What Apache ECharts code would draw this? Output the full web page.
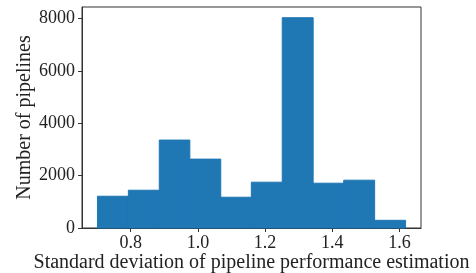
<!DOCTYPE html>
<html>
<head>
<meta charset="UTF-8">
<title>Histogram</title>
<script src="https://cdn.jsdelivr.net/npm/echarts@6/dist/echarts.min.js"></script>
<style>
html,body{margin:0;padding:0;background:#fff;}
#chart{width:476px;height:273px;}
</style>
</head>
<body>
<div id="chart"></div>
<script>
// bin edges and counts
var binEdges = [0.701, 0.793, 0.885, 0.976, 1.068, 1.159, 1.251, 1.343, 1.434, 1.526, 1.618];
var counts = [1214, 1444, 3361, 2633, 1176, 1751, 8038, 1713, 1828, 294];
var xTicks = [0.8, 1.0, 1.2, 1.4, 1.6];
var yTicks = [0, 2000, 4000, 6000, 8000];

var font = 'Liberation Serif';
var data = [];
for (var i = 0; i < counts.length; i++) {
    data.push([binEdges[i], binEdges[i + 1], counts[i]]);
}

var myChart = echarts.init(document.getElementById('chart'));
myChart.setOption({
    animation: false,
    grid: {
        left: 82, right: 55, top: 7, bottom: 45,
        outerBoundsMode: 'none', containLabel: false,
        show: true, borderColor: '#333', borderWidth: 1, backgroundColor: 'transparent'
    },
    xAxis: {
        type: 'value',
        min: 0.655, max: 1.664,
        name: 'Standard deviation of pipeline performance estimation',
        nameLocation: 'middle', nameGap: 25, nameMoveOverlap: false,
        nameTextStyle: {fontFamily: font, fontSize: 20, color: '#222'},
        splitLine: {show: false},
        axisLine: {show: true, onZero: false, lineStyle: {color: '#333'}},
        axisTick: {show: true, length: 4, customValues: xTicks, lineStyle: {color: '#333'}},
        axisLabel: {
            customValues: xTicks, margin: 6,
            fontFamily: font, fontSize: 18, color: '#222',
            formatter: function (v) { return v.toFixed(1); }
        }
    },
    yAxis: {
        type: 'value',
        min: 0, max: 8448,
        name: 'Number of pipelines',
        nameLocation: 'middle', nameGap: 47, nameMoveOverlap: false,
        nameTextStyle: {fontFamily: font, fontSize: 20, color: '#222'},
        splitLine: {show: false},
        axisLine: {show: true, lineStyle: {color: '#333'}},
        axisTick: {show: true, length: 4, customValues: yTicks, lineStyle: {color: '#333'}},
        axisLabel: {
            customValues: yTicks, margin: 7,
            fontFamily: font, fontSize: 18, color: '#222',
            formatter: function (v) { return String(v); }
        }
    },
    series: [{
        type: 'custom',
        data: data,
        encode: {x: [0, 1], y: 2},
        renderItem: function (params, api) {
            var p0 = api.coord([api.value(0), api.value(2)]);
            var p1 = api.coord([api.value(1), 0]);
            return {
                type: 'rect',
                shape: {x: p0[0], y: p0[1], width: p1[0] - p0[0], height: p1[1] - p0[1]},
                style: {fill: '#1f77b4', stroke: '#1f77b4', lineWidth: 1}
            };
        }
    }]
});
</script>
</body>
</html>
